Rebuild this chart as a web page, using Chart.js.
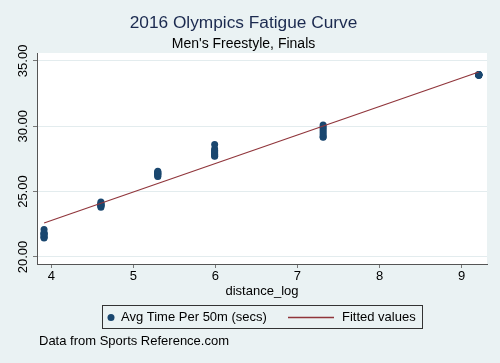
<!DOCTYPE html>
<html lang="en">
<head>
<meta charset="UTF-8">
<title>2016 Olympics Fatigue Curve</title>
<script src="https://cdn.jsdelivr.net/npm/chart.js@4.4.1/dist/chart.umd.min.js"></script>
<style>
    html, body {
        margin: 0;
        padding: 0;
        background-color: #eaf2f3;
    }
    .chartBox {
        width: 500px;
        height: 363px;
    }
</style>
</head>
<body>
<div class="chartBox">
    <canvas id="myChart"></canvas>
</div>
<script>
    // distance_log = ln(race distance in m): 50, 100, 200, 400, 1500, 10k
    const distanceLog = [3.912, 4.605, 5.298, 5.991, 7.313, 9.210];
    // avg time per 50m for each finalist, one list per race
    const times50   = [21.45, 21.50, 21.55, 21.70, 21.75, 21.80, 21.85, 22.10];
    const times100  = [23.80, 23.90, 23.93, 23.95, 24.00, 24.05, 24.10, 24.20];
    const times200  = [26.15, 26.20, 26.30, 26.32, 26.40, 26.45, 26.50, 26.55];
    const times400  = [27.70, 27.75, 27.85, 27.95, 28.05, 28.15, 28.25, 28.60];
    const times1500 = [29.15, 29.20, 29.35, 29.50, 29.65, 29.80, 29.95, 30.10];
    const times10k  = [33.90, 33.90, 33.91, 33.92, 33.93, 33.94, 33.95, 33.95];
    const raceTimes = [times50, times100, times200, times400, times1500, times10k];

    // fitted values at the two ends
    const fitX = [3.912, 9.210];
    const fitY = [22.60, 34.15];

    const xTicks = [4, 5, 6, 7, 8, 9];
    const yTicks = [20, 25, 30, 35];

    const seriesNames = ['Avg Time Per 50m (secs)', 'Fitted values'];
    const noteText = 'Data from Sports Reference.com';

    const navy = '#1a476f';
    const maroon = '#90353b';
    const fontName = "'Liberation Sans', Arial, sans-serif";

    let points = [];
    for (let i = 0; i < distanceLog.length; i++) {
        raceTimes[i].forEach(t => points.push({x: distanceLog[i], y: t}));
    }
    let fitPoints = fitX.map((x, i) => ({x: x, y: fitY[i]}));

    // white plot area + legend box + note
    const stataPlugin = {
        id: 'stata',
        beforeDraw(chart) {
            const {ctx, chartArea} = chart;
            ctx.save();
            ctx.fillStyle = '#eaf2f3';
            ctx.fillRect(0, 0, chart.width, chart.height);
            ctx.fillStyle = '#ffffff';
            ctx.fillRect(chartArea.left, chartArea.top, chartArea.right - chartArea.left, chartArea.bottom - chartArea.top);
            ctx.restore();
        },
        afterDraw(chart) {
            const {ctx, chartArea} = chart;
            const cx = (chartArea.left + chartArea.right) / 2;
            const bx = Math.round(cx - 160) + 0.5;
            const by = chartArea.bottom + 41.5;
            const my = by + 12;
            ctx.save();
            ctx.strokeStyle = '#333';
            ctx.lineWidth = 1;
            ctx.strokeRect(bx, by, 320, 23);

            ctx.fillStyle = navy;
            ctx.beginPath();
            ctx.arc(bx + 8.5, my, 3.5, 0, Math.PI * 2);
            ctx.fill();

            ctx.font = '13px ' + fontName;
            ctx.fillStyle = '#000';
            ctx.textBaseline = 'middle';
            ctx.fillText(chart.data.datasets[0].label, bx + 18.5, my);

            ctx.strokeStyle = maroon;
            ctx.lineWidth = 1.5;
            ctx.beginPath();
            ctx.moveTo(bx + 185.5, my);
            ctx.lineTo(bx + 231.5, my);
            ctx.stroke();

            ctx.fillText(chart.data.datasets[1].label, bx + 239.5, my);

            ctx.fillText(noteText, 39, chartArea.bottom + 77);
            ctx.restore();
        }
    };

    const data = {
        datasets: [{
            type: 'scatter',
            label: seriesNames[0],
            data: points,
            backgroundColor: navy,
            borderColor: navy,
            pointRadius: 3.5,
            pointBorderWidth: 0,
            pointHoverRadius: 3.5,
            order: 1
        }, {
            type: 'line',
            label: seriesNames[1],
            data: fitPoints,
            borderColor: maroon,
            borderWidth: 1.2,
            pointRadius: 0,
            fill: false,
            order: 0
        }]
    };

    const config = {
        type: 'scatter',
        data,
        plugins: [stataPlugin],
        options: {
            responsive: true,
            maintainAspectRatio: false,
            animation: false,
            devicePixelRatio: 1,
            layout: {
                padding: {left: 0, right: 13, top: 0, bottom: 60}
            },
            plugins: {
                legend: {display: false},
                tooltip: {enabled: false},
                title: {
                    display: true,
                    text: '2016 Olympics Fatigue Curve',
                    color: '#1b2a4f',
                    font: {family: fontName, size: 17.3, weight: 'normal', lineHeight: 1.25},
                    padding: {top: 12, bottom: 2}
                },
                subtitle: {
                    display: true,
                    text: "Men's Freestyle, Finals",
                    color: '#000',
                    font: {family: fontName, size: 14, weight: 'normal', lineHeight: 1.2},
                    padding: {top: 0, bottom: 0.6}
                }
            },
            scales: {
                x: {
                    type: 'linear',
                    min: 3.826,
                    max: 9.31,
                    afterBuildTicks: s => { s.ticks = xTicks.map(v => ({value: v})); },
                    afterFit: s => { s.height = 39; },
                    grid: {
                        drawOnChartArea: false,
                        drawTicks: true,
                        tickLength: 4,
                        tickColor: '#777'
                    },
                    border: {display: true, color: '#555', width: 1},
                    ticks: {
                        color: '#000',
                        padding: 1,
                        font: {family: fontName, size: 13}
                    },
                    title: {
                        display: true,
                        text: 'distance_log',
                        color: '#000',
                        font: {family: fontName, size: 13},
                        padding: {top: 0, bottom: 3.5}
                    }
                },
                y: {
                    type: 'linear',
                    min: 19.46,
                    max: 35.6,
                    afterBuildTicks: s => { s.ticks = yTicks.map(v => ({value: v})); },
                    afterFit: s => { s.width = 37; },
                    grid: {
                        color: '#e3ecee',
                        lineWidth: 1,
                        drawTicks: true,
                        tickLength: 4,
                        tickColor: '#777'
                    },
                    border: {display: true, color: '#555', width: 1},
                    ticks: {
                        color: '#000',
                        minRotation: 90,
                        maxRotation: 90,
                        crossAlign: 'center',
                        padding: -7,
                        font: {family: fontName, size: 13},
                        callback: v => v.toFixed(2)
                    }
                }
            }
        }
    };

    const myChart = new Chart(document.getElementById('myChart'), config);
</script>
</body>
</html>
